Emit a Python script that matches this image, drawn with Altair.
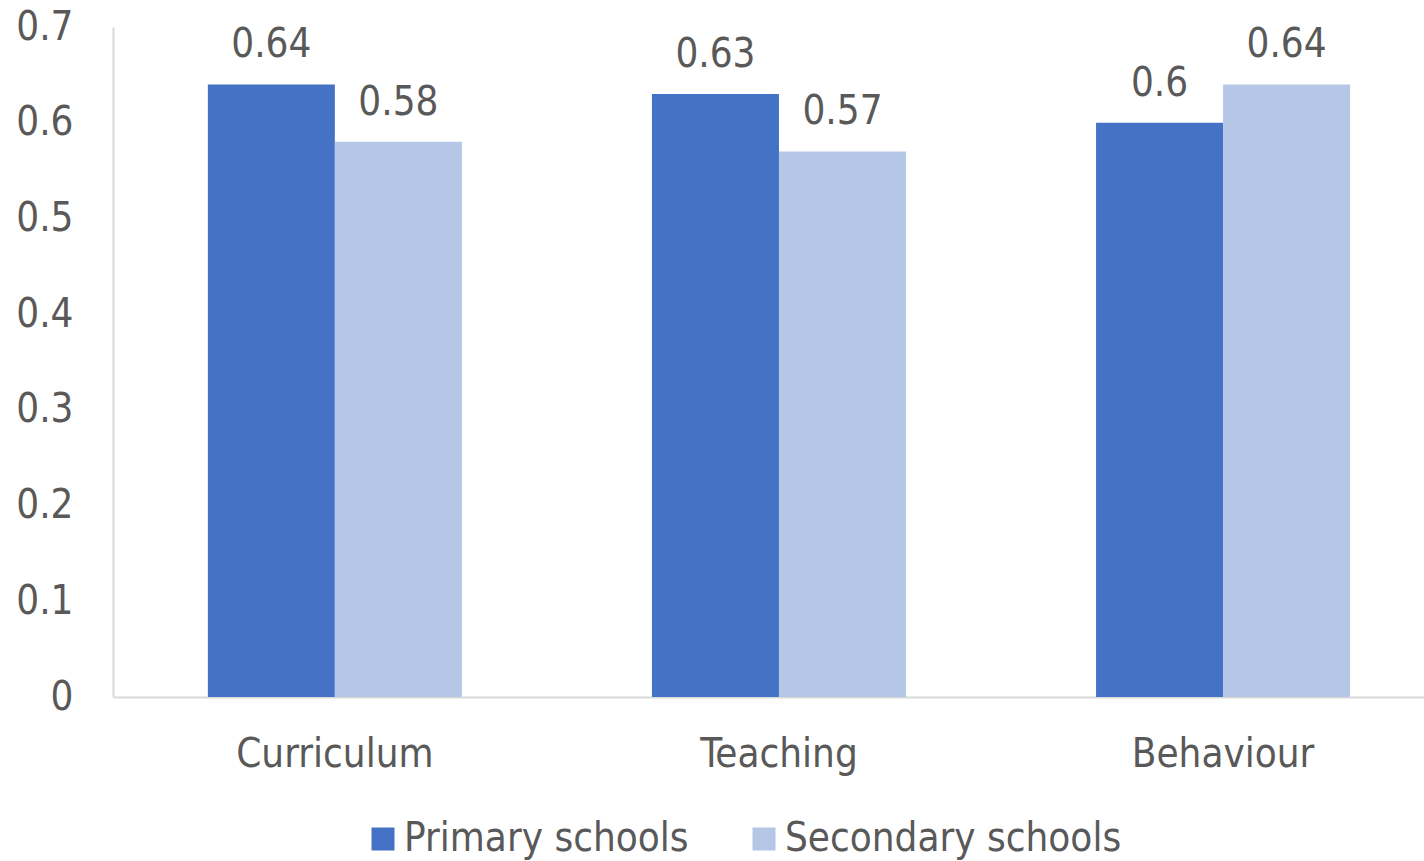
import altair as alt
import pandas as pd

# Category labels and the two school series
categories = ["Curriculum", "Teaching", "Behaviour"]
series = ["Primary schools", "Secondary schools"]
primary = [0.64, 0.63, 0.60]
secondary = [0.58, 0.57, 0.64]
y_ticks = [0, 0.1, 0.2, 0.3, 0.4, 0.5, 0.6, 0.7]
colors = ["#4472C4", "#B4C7E7"]

rows = []
for i, cat in enumerate(categories):
    rows.append({"category": cat, "school": series[0], "value": primary[i]})
    rows.append({"category": cat, "school": series[1], "value": secondary[i]})
df = pd.DataFrame(rows)

FONT = "DejaVu Sans Condensed"
TEXT = "#595959"
AXIS = "#D9D9D9"

x_enc = alt.X(
    "category:N",
    sort=categories,
    scale=alt.Scale(paddingInner=0.428, paddingOuter=0.19, align=0.562),
    axis=alt.Axis(
        title=None, labelAngle=0, ticks=False, domainColor=AXIS, domainWidth=2,
        labelFont=FONT, labelFontSize=40, labelColor=TEXT, labelPadding=37,
        labelLimit=400,
    ),
)
y_enc = alt.Y(
    "value:Q",
    scale=alt.Scale(domain=[0, 0.7], nice=False),
    axis=alt.Axis(
        title=None, values=y_ticks, grid=False, ticks=False, domainColor=AXIS,
        domainWidth=2, labelFont=FONT, labelFontSize=40, labelColor=TEXT,
        labelPadding=40, format="~g",
    ),
)
xoff = alt.XOffset("school:N", sort=series, scale=alt.Scale(paddingInner=0, paddingOuter=0))

bars = alt.Chart(df).mark_bar().encode(
    x=x_enc,
    y=y_enc,
    xOffset=xoff,
    color=alt.Color(
        "school:N",
        sort=series,
        scale=alt.Scale(domain=series, range=colors),
        legend=alt.Legend(
            title=None, orient="none", direction="horizontal",
            legendX=250, legendY=792, symbolType="square", symbolSize=529,
            symbolStrokeWidth=0, labelFont=FONT, labelFontSize=40,
            labelColor=TEXT, labelOffset=1, columnPadding=55,
            labelLimit=500,
        ),
    ),
)

labels = alt.Chart(df).mark_text(
    baseline="alphabetic", dy=-27, font=FONT, fontSize=40, color=TEXT
).encode(
    x=alt.X("category:N", sort=categories),
    y="value:Q",
    xOffset=alt.XOffset("school:N", sort=series),
    text=alt.Text("value:Q", format="~g"),
)

chart = (
    alt.layer(bars, labels)
    .properties(
        width=1311,
        height=670,
        autosize=alt.AutoSizeParams(type="none"),
        padding={"left": 113, "top": 27, "right": 0, "bottom": 164},
        background="white",
    )
    .configure_view(stroke=None, strokeWidth=0)
)

chart.save("out.html", embed_options={"renderer": "svg", "actions": False})
